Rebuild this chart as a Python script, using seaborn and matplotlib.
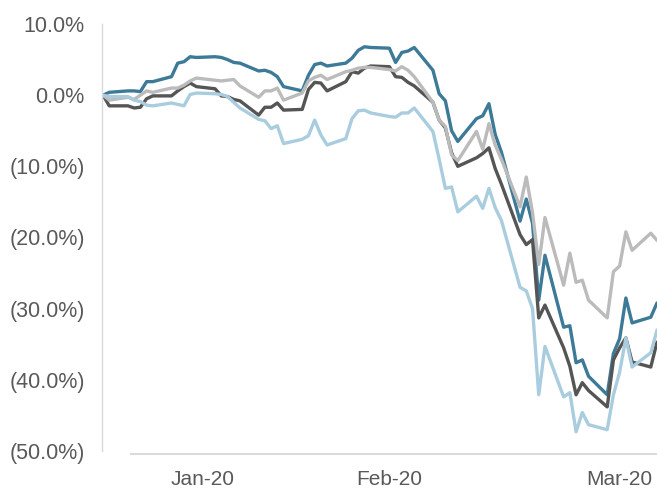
import matplotlib
matplotlib.use("Agg")
import matplotlib.pyplot as plt
import matplotlib.dates as mdates
import matplotlib.ticker as mticker
import pandas as pd
import seaborn as sns

# trading days shown on the chart
dates = pd.bdate_range("2020-01-02", "2020-03-31")

# cumulative return (%) per series
series_1 = [0.0, 0.4, 0.6, 0.6, 0.5, 1.9, 1.9, 2.6, 4.5, 4.7, 5.4, 5.3, 5.4, 5.3, 5.0, 4.6, 4.5, 3.4, 3.5, 3.2, 2.6, 1.2,
            0.6, 2.8, 4.3, 4.5, 4.1, 4.5, 5.2, 6.3, 6.8, 6.7, 6.6, 4.6, 6.0, 6.2, 6.7, 3.5, 0.2, -0.8, -5.0, -6.5,
            -3.3, -2.9, -1.2, -5.5, -8.0, -17.7, -14.6, -18.0, -28.8, -22.5, -32.6, -32.4, -37.6, -37.2, -39.5,
            -42.1, -36.3, -34.2, -28.5, -32.0, -31.2, -29.2]
series_2 = [0.0, -1.5, -1.5, -1.8, -1.7, -0.5, -0.1, -0.1, 0.6, 1.2, 1.7, 1.2, 0.9, -0.1, -0.2, -0.6, -0.8, -2.8, -1.7, -1.7, -1.1, -2.1,
            -2.0, 0.8, 1.8, 1.7, 0.6, 1.9, 3.3, 3.1, 3.8, 4.1, 4.0, 2.6, 2.5, 1.8, 1.3, -1.0, -3.5, -4.6, -8.1, -10.0,
            -8.8, -8.2, -7.4, -10.3, -12.5, -19.6, -21.0, -20.3, -31.3, -29.5, -35.5, -38.1, -42.1, -40.4, -41.5,
            -43.8, -37.2, -35.5, -34.1, -37.5, -38.2, -34.7]
series_3 = [0.0, -0.7, -0.3, -0.6, 0.0, 0.6, 0.4, 1.0, 1.0, 1.4, 2.0, 2.4, 2.1, 2.0, 2.1, 2.2, 1.3, -0.3, 0.6, 0.6, 1.0, -0.7,
            0.3, 2.0, 2.5, 2.8, 2.2, 3.3, 3.5, 3.8, 3.9, 3.9, 3.6, 3.4, 4.0, 3.5, 2.6, -1.0, -3.5, -4.4, -8.4, -9.2,
            -5.1, -7.6, -4.0, -7.0, -9.0, -15.7, -11.5, -16.5, -23.8, -17.2, -26.7, -22.2, -26.3, -26.0, -28.8,
            -31.3, -24.8, -24.0, -19.2, -21.8, -19.4, -20.4]
series_4 = [0.0, -0.2, -0.2, -0.7, -0.9, -1.4, -1.5, -1.1, -1.3, -1.5, 0.1, 0.3, 0.2, 0.1, -0.2, -1.0, -1.8, -3.4, -3.6, -4.7, -4.3, -6.8,
            -6.2, -5.7, -3.5, -5.6, -7.0, -6.1, -3.3, -2.2, -2.1, -2.5, -3.0, -3.1, -2.5, -2.5, -1.8, -5.1, -9.0, -13.1, -12.9, -16.4,
            -14.2, -15.9, -13.1, -15.8, -17.6, -27.0, -27.5, -30.0, -42.1, -35.3, -42.4, -41.8, -47.3, -44.6, -46.3,
            -47.0, -42.1, -38.9, -34.1, -38.2, -36.2, -33.0]

tick_dates = ["2020-01-18", "2020-02-17", "2020-03-25"]
tick_labels = ["Jan-20", "Feb-20", "Mar-20"]

palette = {"Series 1": "#3C7A98", "Series 2": "#555555", "Series 3": "#BBBBBB", "Series 4": "#A9CDDF"}


def pct_label(v, pos):
    if v < 0:
        return f"({abs(v):.1f}%)"
    return f"{v:.1f}%"


def main():
    sns.set_style("white")
    plt.rcParams["font.family"] = ["Liberation Sans", "DejaVu Sans"]

    df = pd.DataFrame({
        "date": dates,
        "Series 1": series_1,
        "Series 2": series_2,
        "Series 3": series_3,
        "Series 4": series_4,
    }).melt(id_vars="date", var_name="series", value_name="ret")

    fig = plt.figure(figsize=(6.57, 4.92), dpi=100)
    ax = fig.add_axes([102 / 657, 41 / 492, 555 / 657, 427 / 492])

    sns.lineplot(data=df, x="date", y="ret", hue="series", palette=palette,
                 hue_order=["Series 1", "Series 2", "Series 3", "Series 4"],
                 linewidth=2.4, legend=False, ax=ax)

    ax.set_ylim(-50, 10)
    ax.set_yticks(range(-50, 11, 10))
    ax.yaxis.set_major_formatter(mticker.FuncFormatter(pct_label))
    ax.set_xlim(pd.Timestamp("2020-01-01 20:00"), pd.Timestamp("2020-03-31"))
    ax.set_xticks([pd.Timestamp(d) for d in tick_dates])
    ax.set_xticklabels(tick_labels)
    ax.set_xlabel("")
    ax.set_ylabel("")

    for side in ["top", "right"]:
        ax.spines[side].set_visible(False)
    ax.spines["left"].set_color("#D9D9D9")
    ax.spines["left"].set_linewidth(1.0)
    ax.spines["bottom"].set_color("#D9D9D9")
    ax.spines["bottom"].set_linewidth(1.4)
    ax.spines["bottom"].set_position(("outward", 2))
    ax.spines["bottom"].set_bounds(mdates.date2num(pd.Timestamp("2020-01-06 12:00")),
                                   mdates.date2num(pd.Timestamp("2020-03-31")))

    ax.tick_params(axis="y", length=4.5, width=1, color="#D9D9D9", pad=8,
                   labelsize=15.5, labelcolor="#595959")
    ax.tick_params(axis="x", length=0, pad=12, labelsize=15, labelcolor="#595959")
    ax.grid(False)

    fig.savefig("out.png", dpi=100)
    plt.close(fig)


if __name__ == "__main__":
    main()
